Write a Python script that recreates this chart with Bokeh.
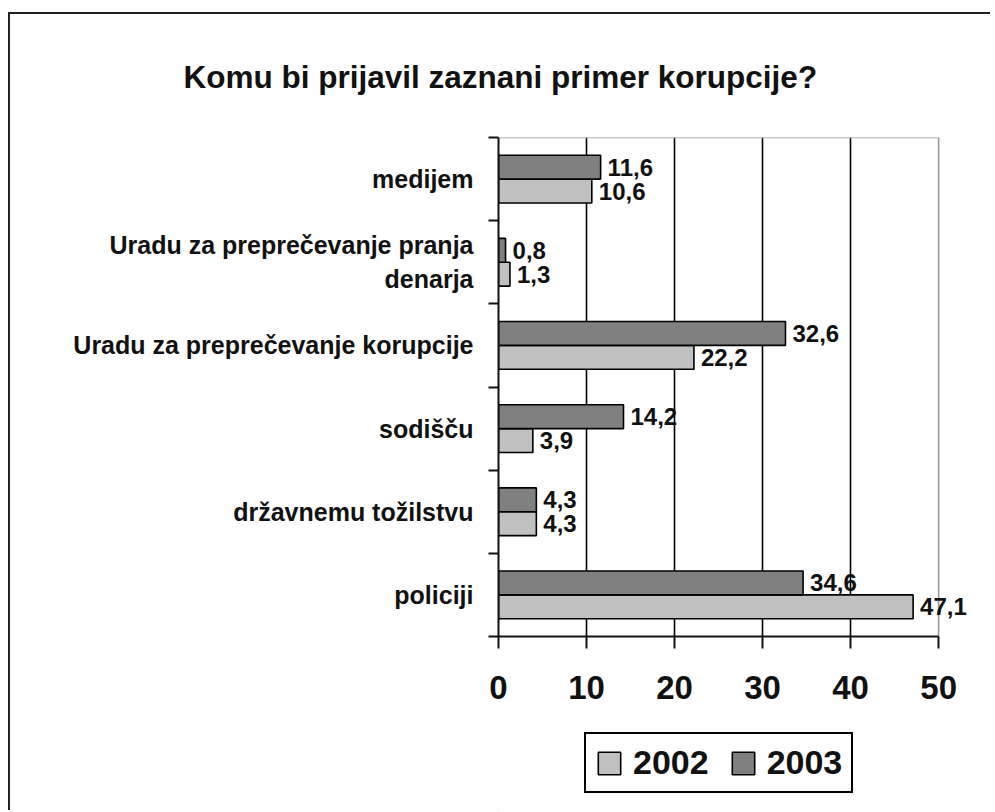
from bokeh.plotting import figure
from bokeh.layouts import column
from bokeh.models import (ColumnDataSource, FixedTicker, Range1d, Legend, LabelSet, Title)
from bokeh.core.properties import value
from bokeh.embed import file_html
from bokeh.resources import INLINE

# ---- data (top to bottom as in the chart) ----
categories = ["medijem", "Uradu za preprečevanje pranja\ndenarja",
              "Uradu za preprečevanje korupcije", "sodišču",
              "državnemu tožilstvu", "policiji"]
values_2002 = [10.6, 1.3, 22.2, 3.9, 4.3, 47.1]
values_2003 = [11.6, 0.8, 32.6, 14.2, 4.3, 34.6]
series_names = ["2002", "2003"]
x_ticks = [0, 10, 20, 30, 40, 50]

FONT = "Liberation Sans"
C02, C03 = "#c0c0c0", "#808080"
n = len(categories)
centers = [n - i - 0.5 for i in range(n)]  # top category highest
bar_h = 0.287
XMAX = 50
XEND = 54.3   # frame extends a bit past 50 so the last value label is not clipped

def fmt(v):
    return f"{v:.1f}".replace(".", ",")

src02 = ColumnDataSource(dict(y=[c - bar_h / 2 for c in centers], x=values_2002,
                              t=[fmt(v) for v in values_2002]))
src03 = ColumnDataSource(dict(y=[c + bar_h / 2 for c in centers], x=values_2003,
                              t=[fmt(v) for v in values_2003]))

# content origin is at page (10, 14) because of the css margin + border
OX, OY = 10, 14
W = 980
H1, H2 = 706, 90
FL, FT, FB = 498 - OX, 134 - OY, 636 - OY
FR = FL + (XEND / XMAX) * 440
BR = int(round(W - FR))
p = figure(width=W, height=H1, output_backend="svg", toolbar_location=None,
           x_range=Range1d(0, XEND), y_range=Range1d(0, n),
           min_border_left=FL, min_border_right=BR,
           min_border_top=FT, min_border_bottom=H1 - FB,
           background_fill_color="white", border_fill_color="white")

p.title = Title(text="Komu bi prijavil  zaznani primer korupcije?", align="left",
                offset=-315, standoff=85, text_font=FONT, text_font_size="31.5px",
                text_font_style="bold", text_color="#111")

p.outline_line_color = None

# grid
p.xgrid.ticker = FixedTicker(ticks=x_ticks[1:-1])
p.xgrid.grid_line_color = "black"
p.xgrid.grid_line_width = 1.6
p.ygrid.grid_line_color = None

# plot-area border (top and right, grey) ending at 50
p.segment(x0=[0, XMAX], y0=[n, 0], x1=[XMAX, XMAX], y1=[n, n],
          line_color="#999999", line_width=1.6)

r02 = p.hbar(y="y", right="x", left=0, height=bar_h, source=src02,
             fill_color=C02, line_color="black", line_width=1.6)
r03 = p.hbar(y="y", right="x", left=0, height=bar_h, source=src03,
             fill_color=C03, line_color="black", line_width=1.6)

for s in (src02, src03):
    ls = LabelSet(x="x", y="y", text="t", source=s, x_offset=7,
                  text_baseline="middle", text_font=value(FONT),
                  text_font_size="24px", text_font_style="bold",
                  text_color="#111", level="overlay")
    p.add_layout(ls)

# x axis
xa = p.xaxis[0]
xa.ticker = FixedTicker(ticks=x_ticks, minor_ticks=[])
xa.bounds = (0, XMAX)
xa.axis_line_width = 2
xa.axis_line_color = "#111"
xa.major_tick_out = 12
xa.major_tick_in = 0
xa.major_tick_line_width = 2
xa.major_tick_line_color = "#111"
xa.major_label_text_font = FONT
xa.major_label_text_font_size = "33px"
xa.major_label_text_font_style = "bold"
xa.major_label_text_color = "#111"
xa.major_label_standoff = 27

# y axis
ya = p.yaxis[0]
ya.ticker = FixedTicker(ticks=centers, minor_ticks=list(range(n + 1)))
ya.major_label_overrides = {c: lab for c, lab in zip(centers, categories)}
ya.axis_line_width = 2
ya.axis_line_color = "#111"
ya.major_tick_out = 0
ya.major_tick_in = 0
ya.minor_tick_out = 10
ya.minor_tick_in = 0
ya.minor_tick_line_width = 2
ya.minor_tick_line_color = "#111"
ya.major_label_text_font = FONT
ya.major_label_text_font_size = "25px"
ya.major_label_text_font_style = "bold"
ya.major_label_text_color = "#111"
ya.major_label_standoff = 15

# legend hosted in a strip below the chart, frame aligned with the chart's frame
q = figure(width=W, height=H2, output_backend="svg", toolbar_location=None,
           x_axis_type=None, y_axis_type=None,
           min_border_left=FL, min_border_right=BR,
           min_border_top=0, min_border_bottom=0,
           x_range=Range1d(0, 1), y_range=Range1d(0, 1),
           background_fill_color="white", border_fill_color="white")
q.outline_line_color = None
q.grid.visible = False
# legend swatches: same styling as the bars, drawn outside the strip's view
l02 = q.hbar(y=[-5], right=[-5], left=-6, height=0.5, fill_color=C02,
             line_color="black", line_width=1.6)
l03 = q.hbar(y=[-5], right=[-5], left=-6, height=0.5, fill_color=C03,
             line_color="black", line_width=1.6)
legend = Legend(items=[(series_names[0], [l02]), (series_names[1], [l03])],
                orientation="horizontal", location=(584 - 498, 17),
                border_line_color="black", border_line_width=2, border_line_alpha=1,
                padding=9, spacing=20, margin=0,
                glyph_width=28, glyph_height=28, label_standoff=10,
                label_text_font=FONT, label_text_font_size="34px",
                label_text_font_style="bold", label_text_color="#111",
                background_fill_color="white", background_fill_alpha=1)
q.add_layout(legend, "center")

page = column(p, q, spacing=0)
page.styles = {"margin-left": "8px", "margin-top": "12px",
               "border-left": "2px solid #222", "border-top": "2px solid #222"}

open("out.html", "w").write(file_html(page, INLINE))
